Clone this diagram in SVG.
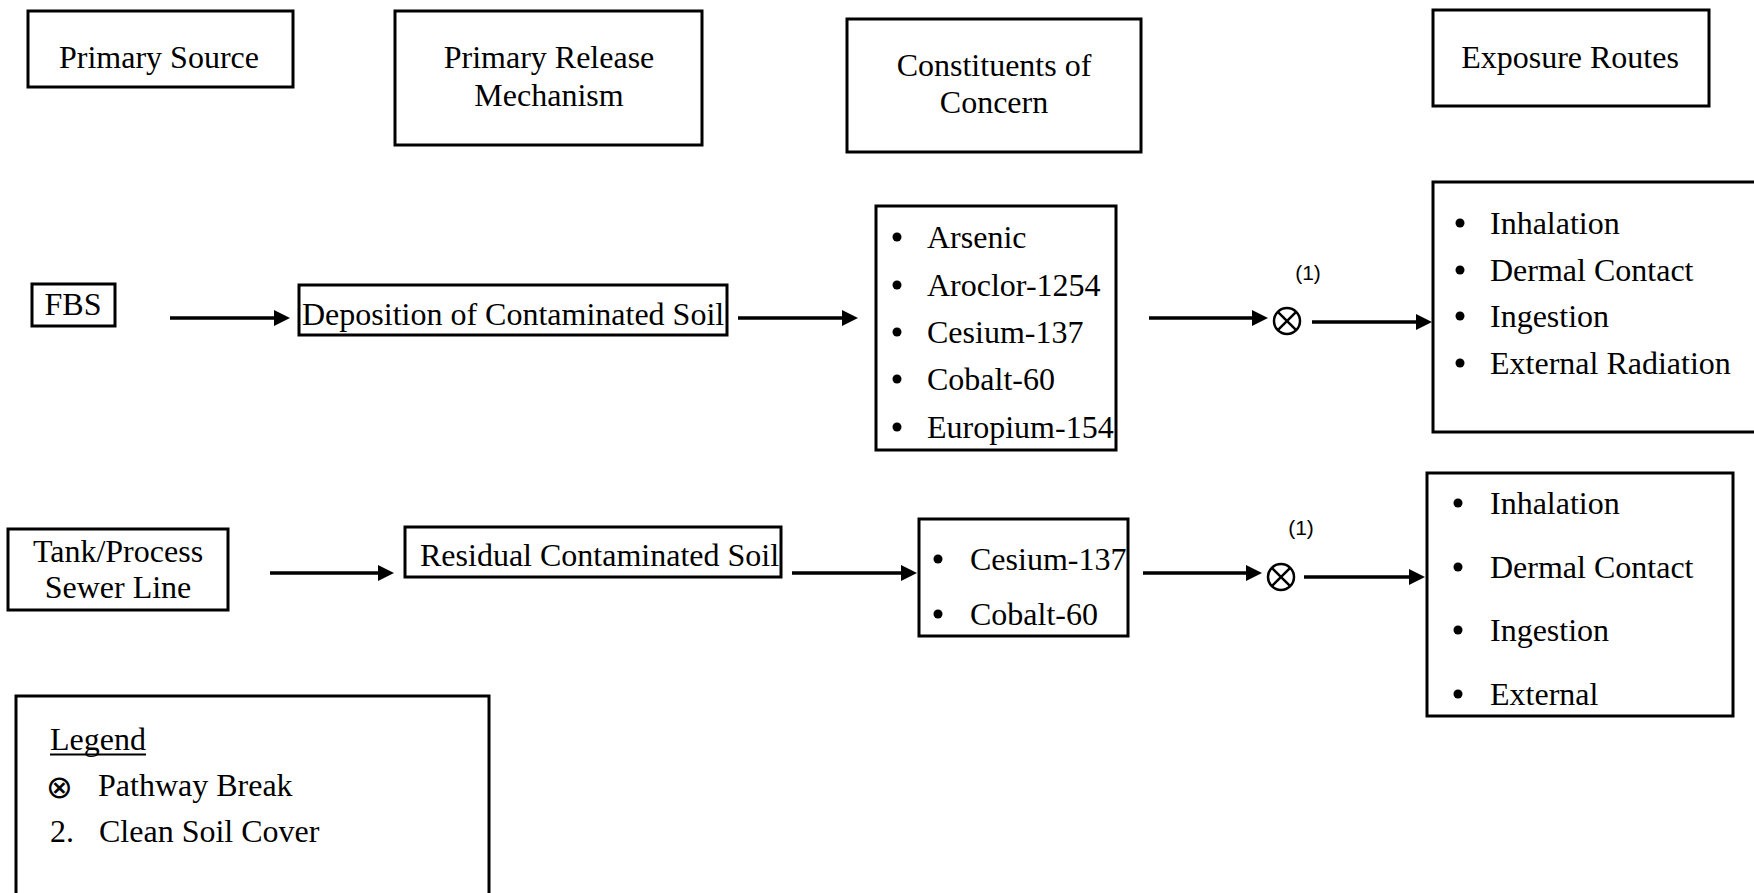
<svg xmlns="http://www.w3.org/2000/svg" width="1754" height="893" viewBox="0 0 1754 893">
<style>
.box{fill:#fff;stroke:#000;stroke-width:3}
.t{font-family:"Liberation Serif","Times New Roman",serif;font-size:32px;fill:#000}
.c{text-anchor:middle}
.n{font-family:"Liberation Sans",Arial,sans-serif;font-size:21px;fill:#000;text-anchor:middle}
.conn line{stroke:#000;stroke-width:3.5;marker-end:url(#ah)}
.brk circle{fill:none;stroke:#000;stroke-width:2.5}
.brk line{stroke:#000;stroke-width:2.5}
</style>
<defs>
<marker id="ah" markerUnits="userSpaceOnUse" markerWidth="18" markerHeight="18" refX="4" refY="8" orient="auto">
<path d="M0,0 L16,8 L0,16 z" fill="#000"/>
</marker>
</defs>
<rect width="1754" height="893" fill="#fff"/>

<g id="hdr-primary-source">
<rect class="box" x="28" y="11" width="265" height="76"/>
<text class="t c" x="159" y="68">Primary Source</text>
</g>
<g id="hdr-release">
<rect class="box" x="395" y="11" width="307" height="134"/>
<text class="t c" x="549" y="68">Primary Release</text>
<text class="t c" x="549" y="106">Mechanism</text>
</g>
<g id="hdr-coc">
<rect class="box" x="847" y="19" width="294" height="133"/>
<text class="t c" x="994" y="76">Constituents of</text>
<text class="t c" x="994" y="113">Concern</text>
</g>
<g id="hdr-exposure">
<rect class="box" x="1433" y="10" width="276" height="96"/>
<text class="t c" x="1570" y="68">Exposure Routes</text>
</g>

<g id="fbs">
<rect class="box" x="32" y="284" width="83" height="42"/>
<text class="t c" x="73" y="315">FBS</text>
</g>
<g id="deposition">
<rect class="box" x="299" y="285" width="428" height="50"/>
<text class="t" x="302" y="325">Deposition of Contaminated Soil</text>
</g>
<g id="coc1">
<rect class="box" x="876" y="206" width="240" height="244"/>
<circle cx="897" cy="237" r="4.5"/><text class="t" x="927" y="248">Arsenic</text>
<circle cx="897" cy="285" r="4.5"/><text class="t" x="927" y="296">Aroclor-1254</text>
<circle cx="897" cy="332" r="4.5"/><text class="t" x="927" y="343">Cesium-137</text>
<circle cx="897" cy="379" r="4.5"/><text class="t" x="927" y="390">Cobalt-60</text>
<circle cx="897" cy="427" r="4.5"/><text class="t" x="927" y="438">Europium-154</text>
</g>
<g id="break1" class="brk">
<text class="n" x="1308" y="280">(1)</text>
<circle cx="1287" cy="321" r="13"/>
<line x1="1277.8" y1="311.8" x2="1296.2" y2="330.2"/>
<line x1="1296.2" y1="311.8" x2="1277.8" y2="330.2"/>
</g>
<g id="exp1">
<rect class="box" x="1433" y="182" width="330" height="250"/>
<circle cx="1460" cy="223" r="4.5"/><text class="t" x="1490" y="234">Inhalation</text>
<circle cx="1460" cy="270" r="4.5"/><text class="t" x="1490" y="281">Dermal Contact</text>
<circle cx="1460" cy="316" r="4.5"/><text class="t" x="1490" y="327">Ingestion</text>
<circle cx="1460" cy="363" r="4.5"/><text class="t" x="1490" y="374">External Radiation</text>
</g>

<g id="tank">
<rect class="box" x="8" y="529" width="220" height="81"/>
<text class="t c" x="118" y="562">Tank/Process</text>
<text class="t c" x="118" y="598">Sewer Line</text>
</g>
<g id="residual">
<rect class="box" x="405" y="527" width="376" height="50"/>
<text class="t" x="420" y="566">Residual Contaminated Soil</text>
</g>
<g id="coc2">
<rect class="box" x="919" y="519" width="209" height="117"/>
<circle cx="938" cy="559" r="4.5"/><text class="t" x="970" y="570">Cesium-137</text>
<circle cx="938" cy="614" r="4.5"/><text class="t" x="970" y="625">Cobalt-60</text>
</g>
<g id="break2" class="brk">
<text class="n" x="1301" y="535">(1)</text>
<circle cx="1281" cy="577" r="13"/>
<line x1="1271.8" y1="567.8" x2="1290.2" y2="586.2"/>
<line x1="1290.2" y1="567.8" x2="1271.8" y2="586.2"/>
</g>
<g id="exp2">
<rect class="box" x="1427" y="473" width="306" height="243"/>
<circle cx="1458" cy="503" r="4.5"/><text class="t" x="1490" y="514">Inhalation</text>
<circle cx="1458" cy="567" r="4.5"/><text class="t" x="1490" y="578">Dermal Contact</text>
<circle cx="1458" cy="630" r="4.5"/><text class="t" x="1490" y="641">Ingestion</text>
<circle cx="1458" cy="694" r="4.5"/><text class="t" x="1490" y="705">External</text>
</g>

<g id="legend">
<rect class="box" x="16" y="696" width="473" height="205"/>
<text class="t" x="50" y="750">Legend</text>
<line x1="50" y1="754.5" x2="146" y2="754.5" stroke="#000" stroke-width="1.8"/>
<text x="46" y="798" font-family="DejaVu Sans,sans-serif" font-size="32px" fill="#000">⊗</text>
<text class="t" x="98" y="796">Pathway Break</text>
<text class="t" x="50" y="842">2.</text>
<text class="t" x="99" y="842">Clean Soil Cover</text>
</g>

<g id="connectors" class="conn">
<line x1="170" y1="318" x2="278" y2="318"/>
<line x1="738" y1="318" x2="846" y2="318"/>
<line x1="1149" y1="318" x2="1256" y2="318"/>
<line x1="1312" y1="322" x2="1420" y2="322"/>
<line x1="270" y1="573" x2="382" y2="573"/>
<line x1="792" y1="573" x2="905" y2="573"/>
<line x1="1143" y1="573" x2="1250" y2="573"/>
<line x1="1304" y1="577" x2="1413" y2="577"/>
</g>
</svg>
